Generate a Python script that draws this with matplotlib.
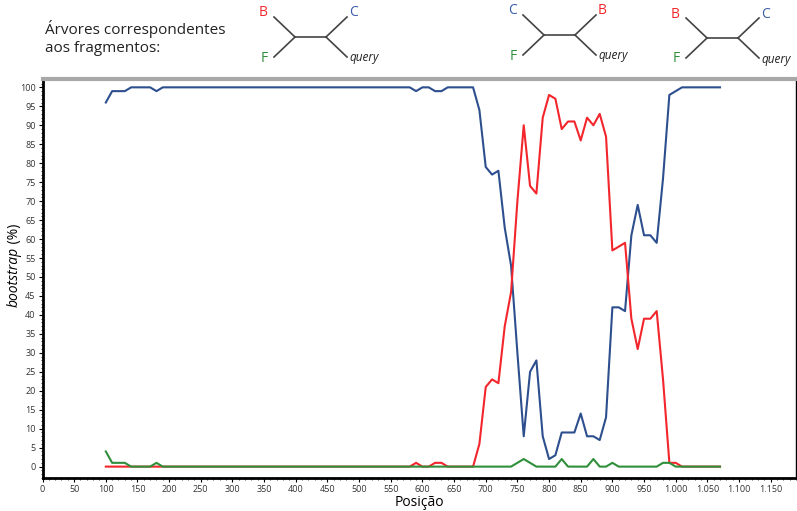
import matplotlib
matplotlib.use("Agg")
import matplotlib.pyplot as plt
from matplotlib.ticker import MultipleLocator, FuncFormatter

plt.rcParams['font.family'] = ['Open Sans', 'DejaVu Sans']

# posicoes dos fragmentos (100 .. 1070, passo 10)
posicao = list(range(100, 1080, 10))

# arvore 1 (B,F | C,query) - azul
azul = [96, 99, 99, 99, 100, 100, 100, 100, 99, 100] + [100] * 39 + \
       [99, 100, 100, 99, 99, 100, 100, 100, 100, 100,
        94, 79, 77, 78, 63, 53, 30, 8, 25, 28, 8, 2, 3, 9, 9, 9, 14, 8, 8, 7, 13,
        42, 42, 41, 61, 69, 61, 61, 59, 76, 98, 99] + [100] * 7

# arvore 2 (C,F | B,query) - vermelho
vermelho = [0] * 49 + \
       [1, 0, 0, 1, 1, 0, 0, 0, 0, 0,
        6, 21, 23, 22, 37, 46, 70, 90, 74, 72, 92, 98, 97, 89, 91, 91, 86, 92, 90, 93, 87,
        57, 58, 59, 39, 31, 39, 39, 41, 23, 1, 1] + [0] * 7

# arvore 3 - verde
verde = [4, 1, 1, 1, 0, 0, 0, 0, 1, 0] + [0] * 55 + \
       [1, 2, 1, 0, 0, 0, 0, 2, 0, 0, 0, 0, 2, 0, 0, 1, 0, 0, 0, 0, 0, 0, 0, 1, 1, 0] + [0] * 7

C_AZUL = '#2d4f8e'
C_VERM = '#f2262c'
C_VERDE = '#2f8f3a'
C_AZUL_TXT = '#3a5ca8'

fig = plt.figure(figsize=(7.97, 5.11), dpi=100)
ax = fig.add_axes([42.5 / 797, 1 - 478 / 511, (796 - 42.5) / 797, (478 - 79) / 511])

ax.plot(posicao, azul, color=C_AZUL, lw=1.5)
ax.plot(posicao, vermelho, color=C_VERM, lw=1.5)
ax.plot(posicao, verde, color=C_VERDE, lw=1.5)

ax.set_xlim(0, 1190)
ax.set_ylim(-3, 102.2)
ax.set_xticks(range(0, 1151, 50))
ax.xaxis.set_minor_locator(MultipleLocator(10))
ax.yaxis.set_major_locator(MultipleLocator(5))
ax.yaxis.set_minor_locator(MultipleLocator(1))
ax.xaxis.set_major_formatter(FuncFormatter(lambda v, p: f"{int(v):,}".replace(",", ".")))
ax.tick_params(which='major', length=3, width=0.8, labelsize=6.5, labelcolor='#333333', pad=2)
ax.tick_params(which='minor', length=1.5, width=0.5)

for s in ['left', 'bottom']:
    ax.spines[s].set_linewidth(2)
    ax.spines[s].set_color('black')
ax.spines['top'].set_linewidth(3)
ax.spines['top'].set_color('#a8a8a8')
ax.spines['right'].set_linewidth(1)
ax.spines['right'].set_color('black')

ax.set_xlabel('Posição', fontsize=10, labelpad=1)
# rotulo do eixo y: "bootstrap" em italico + " (%)"
fig.text(0.0176, 0.517, 'bootstrap', rotation=90, fontsize=10, style='italic',
         ha='center', va='top')
fig.text(0.0176, 0.517, ' (%)', rotation=90, fontsize=10, ha='center', va='bottom')

# cabecalho com as arvores (coordenadas em pixels)
hdr = fig.add_axes([0, 0, 1, 1], facecolor='none')
hdr.set_xlim(0, 797)
hdr.set_ylim(511, 0)
hdr.axis('off')

hdr.text(45, 38, 'Árvores correspondentes\naos fragmentos:', fontsize=11,
         va='center', ha='left', color='#222222', linespacing=1.25)


def arvore(x0, y0, ul, ll, ur, cores):
    # x0,y0: no esquerdo; galho interno de 31 px
    x1 = x0 + 31
    dx, dy = 21, 20
    hdr.plot([x0, x1], [y0, y0], color='#444444', lw=1.2)
    hdr.plot([x0, x0 - dx], [y0, y0 - dy], color='#444444', lw=1.2)
    hdr.plot([x0, x0 - dx], [y0, y0 + dy], color='#444444', lw=1.2)
    hdr.plot([x1, x1 + dx], [y0, y0 - dy], color='#444444', lw=1.2)
    hdr.plot([x1, x1 + dx], [y0, y0 + dy], color='#444444', lw=1.2)
    hdr.text(x0 - dx - 6, y0 - dy - 4, ul, color=cores[0], fontsize=10, ha='right', va='center')
    hdr.text(x0 - dx - 6, y0 + dy + 1, ll, color=cores[1], fontsize=10, ha='right', va='center')
    hdr.text(x1 + dx + 2, y0 - dy - 4, ur, color=cores[2], fontsize=10, ha='left', va='center')
    hdr.text(x1 + dx + 2, y0 + dy + 1, 'query', color='#222222', fontsize=8.5,
             style='italic', ha='left', va='center')


arvore(295, 37, 'B', 'F', 'C', [C_VERM, C_VERDE, C_AZUL_TXT])
arvore(544, 35, 'C', 'F', 'B', [C_AZUL_TXT, C_VERDE, C_VERM])
arvore(707, 38, 'B', 'F', 'C', [C_VERM, C_VERDE, C_AZUL_TXT])

fig.savefig('out.png', dpi=100)
